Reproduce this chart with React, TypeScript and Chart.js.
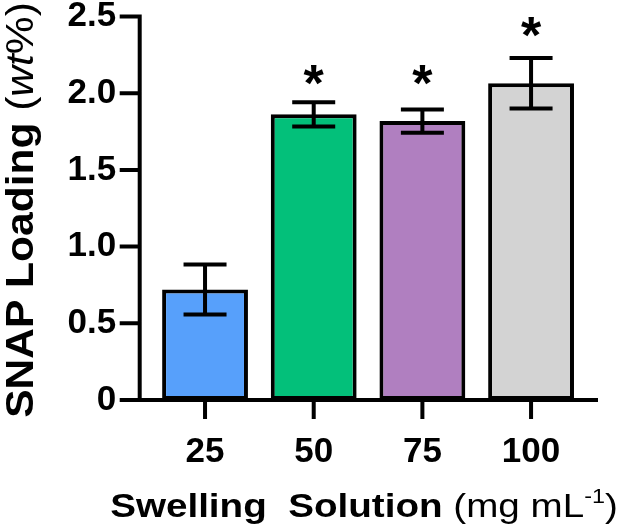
import React, { useEffect, useRef } from "react";
import { Chart, registerables } from "chart.js";

Chart.register(...registerables);

// ---- data ----
const categories = ["25", "50", "75", "100"];
const loadingMean = [0.72, 1.862, 1.818, 2.065];
const loadingErr = [0.163, 0.079, 0.076, 0.164];
const barColors = ["#57A0FB", "#03C07A", "#B07FC0", "#D3D3D3"];
const sigMarkY: (number | null)[] = [null, 2.145, 2.145, 2.455];
const yTicks = [0, 0.5, 1.0, 1.5, 2.0, 2.5];
const yTitleRuns = [
  { text: "SNAP Loading", style: "bold" },
  { text: " (", style: "normal" },
  { text: "wt", style: "italic" },
  { text: "%)", style: "normal" },
];
const xTitleRuns = [
  { text: "Swelling  Solution", style: "bold" },
  { text: " (mg mL", style: "normal" },
  { text: "-1", style: "sup" },
  { text: ")", style: "normal" },
];

// ---- style constants ----
const FONT = "'Liberation Sans', Arial, Helvetica, sans-serif";
const LW = 4;
const AXIS_GAP = 11;
const Y_TICK_LEN = 20;
const X_TICK_LEN = 19;
const X_AXIS_EXT = 12.6;
const CAP = 43;

function runFont(style: string, size: number) {
  if (style === "bold") return `bold ${size}px ${FONT}`;
  if (style === "italic") return `italic ${size}px ${FONT}`;
  if (style === "sup") return `${Math.round(size * 0.62)}px ${FONT}`;
  return `${size}px ${FONT}`;
}

function drawRuns(ctx: CanvasRenderingContext2D, runs: any[], size: number, stretch: number) {
  let total = 0;
  const widths = runs.map((r) => {
    ctx.font = runFont(r.style, size);
    const w = ctx.measureText(r.text).width;
    total += w;
    return w;
  });
  ctx.save();
  ctx.scale(stretch, 1);
  let x = -total / 2;
  ctx.textBaseline = "alphabetic";
  ctx.textAlign = "left";
  runs.forEach((r, i) => {
    ctx.font = runFont(r.style, size);
    const dy = r.style === "sup" ? -size * 0.42 : 0;
    ctx.fillText(r.text, x, dy);
    x += widths[i];
  });
  ctx.restore();
}

const decorPlugin = {
  id: "decor",
  afterDatasetsDraw(chart: any) {
    const ctx: CanvasRenderingContext2D = chart.ctx;
    const area = chart.chartArea;
    const xs = chart.scales.x;
    const ys = chart.scales.y;
    const ax = area.left - AXIS_GAP;
    const y0 = ys.getPixelForValue(0);
    const yTop = ys.getPixelForValue(2.5);
    ctx.save();
    ctx.strokeStyle = "#000";
    ctx.fillStyle = "#000";
    ctx.lineWidth = LW;
    ctx.lineCap = "butt";
    const meta = chart.getDatasetMeta(0);
    meta.data.forEach((bar: any, i: number) => {
      const cx = bar.x;
      const yt = ys.getPixelForValue(loadingMean[i] + loadingErr[i]);
      const yb = ys.getPixelForValue(loadingMean[i] - loadingErr[i]);
      ctx.beginPath();
      ctx.moveTo(cx, yt);
      ctx.lineTo(cx, yb);
      ctx.moveTo(cx - CAP / 2, yt);
      ctx.lineTo(cx + CAP / 2, yt);
      ctx.moveTo(cx - CAP / 2, yb);
      ctx.lineTo(cx + CAP / 2, yb);
      ctx.stroke();
      const s = sigMarkY[i];
      if (s !== null && s !== undefined) {
        const size = 52;
        ctx.font = `bold ${size}px ${FONT}`;
        ctx.textAlign = "center";
        ctx.textBaseline = "alphabetic";
        ctx.fillText("*", cx, ys.getPixelForValue(s) + size * 0.57);
      }
    });
    ctx.beginPath();
    ctx.moveTo(ax, yTop - LW / 2);
    ctx.lineTo(ax, y0);
    yTicks.forEach((v) => {
      const py = ys.getPixelForValue(v);
      ctx.moveTo(ax - Y_TICK_LEN, py);
      ctx.lineTo(ax + LW / 2, py);
    });
    ctx.moveTo(ax - Y_TICK_LEN, y0);
    ctx.lineTo(area.right + X_AXIS_EXT, y0);
    categories.forEach((_c, i) => {
      const px = xs.getPixelForValue(i);
      ctx.moveTo(px, y0);
      ctx.lineTo(px, y0 + X_TICK_LEN);
    });
    ctx.stroke();
    ctx.restore();
  },
  afterDraw(chart: any) {
    const ctx: CanvasRenderingContext2D = chart.ctx;
    ctx.save();
    ctx.fillStyle = "#000";
    ctx.save();
    ctx.translate(32.5, 210);
    ctx.rotate(-Math.PI / 2);
    drawRuns(ctx, yTitleRuns, 39, 1.09);
    ctx.restore();
    ctx.save();
    ctx.translate(364, 517);
    drawRuns(ctx, xTitleRuns, 33, 1.17);
    ctx.restore();
    ctx.restore();
  },
};

export default function App() {
  const ref = useRef<HTMLCanvasElement | null>(null);
  useEffect(() => {
    document.body.style.margin = "0";
    const canvas = ref.current!;
    const chart = new Chart(canvas, {
      type: "bar",
      data: {
        labels: categories,
        datasets: [
          {
            data: loadingMean,
            backgroundColor: barColors,
            borderColor: "#000",
            borderWidth: 4,
            borderSkipped: false,
            barPercentage: 0.79,
            categoryPercentage: 1,
          },
        ],
      },
      options: {
        animation: false,
        responsive: false,
        events: [],
        layout: { padding: { left: 0, right: 39.6, top: 16.5, bottom: 0 } },
        plugins: { legend: { display: false }, tooltip: { enabled: false }, title: { display: false } },
        scales: {
          x: {
            offset: true,
            grid: { display: false, drawTicks: false },
            border: { display: false },
            ticks: {
              color: "#000",
              padding: 31,
              font: { family: FONT, size: 35, weight: "bold", lineHeight: 1.2 },
              maxRotation: 0,
              autoSkip: false,
            },
            afterFit: (s: any) => {
              s.height = 132;
              s.paddingLeft = 0;
              s.paddingRight = 0;
            },
          },
          y: {
            min: 0,
            max: 2.5,
            grid: { display: false, drawTicks: false },
            border: { display: false },
            ticks: {
              stepSize: 0.5,
              color: "#000",
              padding: 34.5,
              font: { family: FONT, size: 35, weight: "bold", lineHeight: 1.2 },
              callback: (v: any) => (Number(v) === 0 ? "0" : Number(v).toFixed(1)),
            },
            afterFit: (s: any) => {
              s.width = 150.7;
              s.paddingTop = 0;
              s.paddingBottom = 0;
            },
          },
        },
      },
      plugins: [decorPlugin],
    });
    return () => chart.destroy();
  }, []);
  return (
    <div style={{ position: "absolute", left: 0, top: 0, width: 625, height: 532, background: "#fff" }}>
      <canvas ref={ref} width={625} height={532} style={{ width: 625, height: 532, display: "block" }} />
    </div>
  );
}
